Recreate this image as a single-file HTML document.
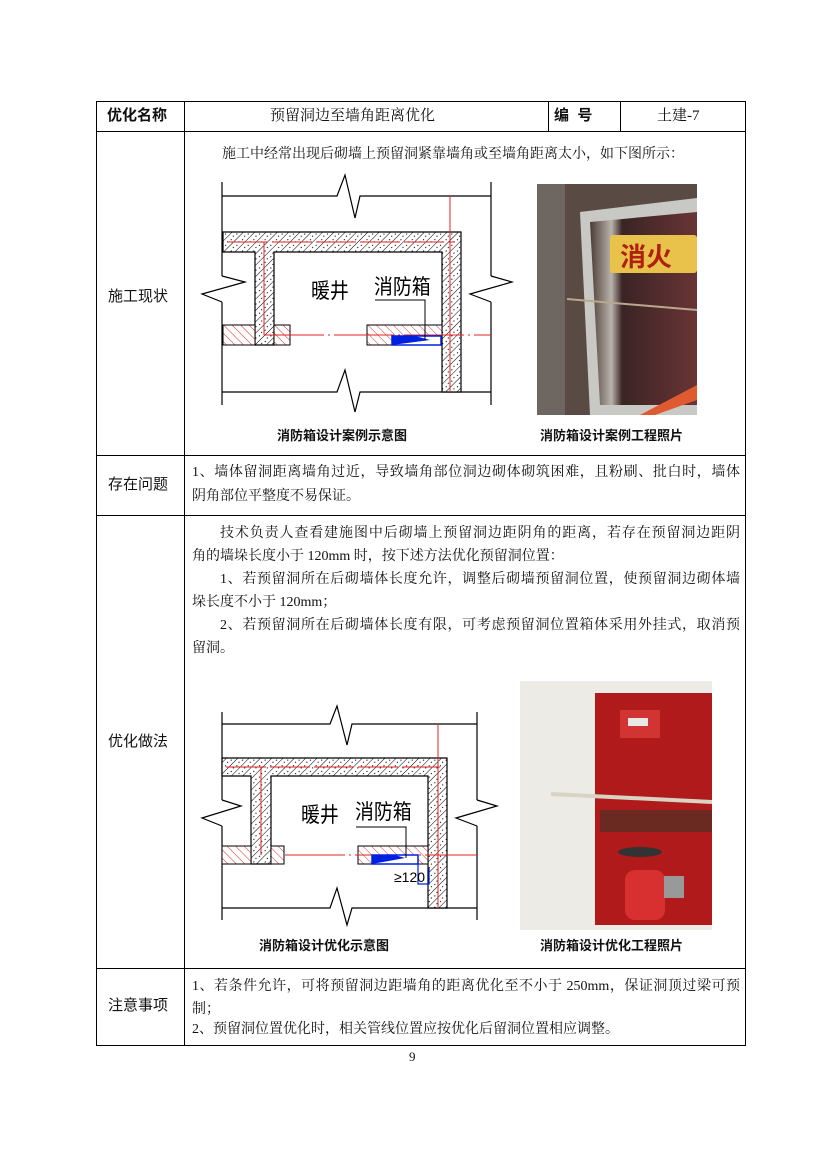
<!DOCTYPE html>
<html><head><meta charset="utf-8"><style>
body{margin:0;background:#fff;}
#pg{position:relative;width:826px;height:1169px;overflow:hidden;font-family:"Liberation Serif","Noto Serif CJK SC","Noto Sans CJK SC",serif;color:#111;}
.t{position:absolute;white-space:nowrap;font-size:14px;line-height:16px;}
.j{text-align:justify;text-align-last:justify;}
.b{font-family:"Liberation Sans","Noto Sans CJK SC",sans-serif;font-weight:bold;}
.l{font-family:"Liberation Sans","Noto Sans CJK SC",sans-serif;font-size:15px;}
svg{position:absolute;left:0;top:0;}
.dl{font-family:"WenQuanYi Zen Hei","Noto Sans CJK SC",sans-serif;font-weight:normal;}
</style></head><body><div id="pg">
<svg width="826" height="1169" viewBox="0 0 826 1169">
<defs>
<pattern id="con" width="8" height="8" patternUnits="userSpaceOnUse" patternTransform="rotate(45)">
<rect width="8" height="8" fill="#fff"/><line x1="0" y1="0" x2="0" y2="8" stroke="#000" stroke-width="1"/>
<circle cx="4" cy="2" r="0.6" fill="#000"/><circle cx="5" cy="6" r="0.6" fill="#000"/></pattern>
<pattern id="brk" width="6" height="6" patternUnits="userSpaceOnUse" patternTransform="rotate(-45)">
<rect width="6" height="6" fill="#fff"/><line x1="0" y1="0" x2="0" y2="6" stroke="#e03030" stroke-width="1"/></pattern>
<linearGradient id="g1" x1="0" y1="0" x2="1" y2="0"><stop offset="0" stop-color="#4a3a33"/><stop offset="0.2" stop-color="#b9b4ac"/><stop offset="0.3" stop-color="#3a2424"/><stop offset="1" stop-color="#6a3436"/></linearGradient>
</defs>
<g stroke="#000" stroke-width="1" fill="none">
<rect x="96.5" y="101.5" width="649" height="944"/>
<line x1="96" y1="131.5" x2="746" y2="131.5"/>
<line x1="96" y1="455.5" x2="746" y2="455.5"/>
<line x1="96" y1="515.5" x2="746" y2="515.5"/>
<line x1="96" y1="968.5" x2="746" y2="968.5"/>
<line x1="184.5" y1="101" x2="184.5" y2="1045"/>
<line x1="548.5" y1="101" x2="548.5" y2="131"/>
<line x1="620.5" y1="101" x2="620.5" y2="131"/>
</g>
<!-- diagram 1 -->
<g fill="none" stroke="#000" stroke-width="1.2">
<line x1="222" y1="182" x2="222" y2="276"/><line x1="222" y1="302" x2="222" y2="405"/>
<line x1="491" y1="182" x2="491" y2="276"/><line x1="491" y1="302" x2="491" y2="405"/>
<polyline points="222,196 337,196 345,175 355,218 360,196 491,196"/>
<polyline points="222,392 337,392 345,370 355,412 360,392 491,392"/>
<polyline points="222,276 245,282 202,294 222,302"/>
<polyline points="491,276 512,282 470,294 491,302"/>
</g>
<path d="M223,232 H461 V392 H442 V252 H274 V345 H255 V252 H223 Z" fill="url(#con)" stroke="#000" stroke-width="1.2"/>
<rect x="223" y="325" width="32" height="20" fill="url(#brk)" stroke="#000"/>
<rect x="274" y="325" width="16" height="20" fill="url(#brk)" stroke="#000"/>
<rect x="367" y="325" width="75" height="20" fill="url(#brk)" stroke="#000"/>
<g stroke="#e02020" stroke-width="1" fill="none">
<line x1="450" y1="196" x2="450" y2="392"/>
<line x1="228" y1="242" x2="455" y2="242" stroke-dasharray="40 4"/>
<line x1="264" y1="242" x2="264" y2="335"/>
<line x1="264" y1="335" x2="491" y2="335" stroke-dasharray="60 4 2 4"/>
</g>
<rect x="392" y="336" width="49" height="9" fill="#fff" stroke="#0020e0" stroke-width="1.5"/>
<path d="M392,336 H415 L430,340 L392,345 Z" fill="#0020e0"/>
<polyline points="375,300 425,300 425,340" fill="none" stroke="#000"/>
<text class="dl" x="311" y="298" font-size="21" transform="translate(311 0) scale(0.9 1) translate(-311 0)">暖井</text>
<text class="dl" x="374" y="294" font-size="21" transform="translate(374 0) scale(0.9 1) translate(-374 0)">消防箱</text>
<!-- photo 1 -->
<rect x="537" y="184" width="160" height="231" fill="#5a4a44"/>
<rect x="537" y="184" width="28" height="231" fill="#6e6660"/>
<path d="M580,212 L697,198 V415 L590,415 Z" fill="#c8c8c4"/>
<path d="M590,222 L697,212 V405 L600,405 Z" fill="url(#g1)"/>
<rect x="610" y="235" width="87" height="38" rx="3" fill="#e8c24a"/>
<text x="620" y="266" font-size="26" fill="#b02010" font-weight="bold" font-family="Noto Sans CJK SC,sans-serif">消火</text>
<line x1="567" y1="299" x2="697" y2="310" stroke="#b8a890" stroke-width="2"/>
<path d="M640,415 L697,385 V400 L655,415 Z" fill="#e05a30"/>
<!-- diagram 2 -->
<g fill="none" stroke="#000" stroke-width="1.2">
<line x1="222" y1="712" x2="222" y2="800"/><line x1="222" y1="826" x2="222" y2="920"/>
<line x1="477" y1="712" x2="477" y2="800"/><line x1="477" y1="826" x2="477" y2="920"/>
<polyline points="222,724 330,724 337,706 347,745 352,724 477,724"/>
<polyline points="222,908 330,908 337,888 347,925 352,908 477,908"/>
<polyline points="222,800 241,806 202,818 222,826"/>
<polyline points="477,800 497,806 456,818 477,826"/>
</g>
<path d="M222,758 H447 V908 H428 V776 H271 V864 H251 V776 H222 Z" fill="url(#con)" stroke="#000" stroke-width="1.2"/>
<rect x="222" y="846" width="29" height="18" fill="url(#brk)" stroke="#000"/>
<rect x="271" y="846" width="13" height="18" fill="url(#brk)" stroke="#000"/>
<rect x="358" y="846" width="70" height="18" fill="url(#brk)" stroke="#000"/>
<g stroke="#e02020" stroke-width="1" fill="none">
<line x1="438" y1="724" x2="438" y2="908"/>
<line x1="226" y1="767" x2="440" y2="767" stroke-dasharray="40 4"/>
<line x1="261" y1="767" x2="261" y2="855"/>
<line x1="285" y1="855" x2="477" y2="855" stroke-dasharray="60 4 2 4"/>
</g>
<rect x="372" y="855" width="46" height="9" fill="#fff" stroke="#0020e0" stroke-width="1.5"/>
<path d="M372,855 H395 L405,858 L372,864 Z" fill="#0020e0"/>
<polyline points="418,864 418,884 429,884 429,868" fill="none" stroke="#0020e0" stroke-width="1.2"/>
<text x="394" y="882" font-size="14" font-family="Liberation Sans,sans-serif">≥120</text>
<polyline points="356,827 406,827 406,858" fill="none" stroke="#000"/>
<text class="dl" x="301" y="822" font-size="21" transform="translate(301 0) scale(0.9 1) translate(-301 0)">暖井</text>
<text class="dl" x="355" y="819" font-size="21" transform="translate(355 0) scale(0.9 1) translate(-355 0)">消防箱</text>
<!-- photo 2 -->
<rect x="520" y="681" width="192" height="249" fill="#ecebe6"/>
<rect x="595" y="693" width="117" height="232" fill="#b01a1a"/>
<rect x="620" y="710" width="40" height="28" fill="#d23434"/>
<rect x="628" y="718" width="20" height="8" fill="#e8e8e8"/>
<rect x="600" y="810" width="112" height="22" fill="#6a2a22"/>
<line x1="551" y1="794" x2="712" y2="802" stroke="#d8d4c4" stroke-width="4"/>
<rect x="625" y="870" width="40" height="50" rx="10" fill="#d83030"/>
<ellipse cx="640" cy="852" rx="22" ry="5" fill="#333"/>
<rect x="664" y="876" width="20" height="22" fill="#999"/>
</svg>
<div class="t b" style="left:107px;top:108px;font-size:15px;">优化名称</div>
<div class="t" style="left:270px;top:108px;font-size:15px;">预留洞边至墙角距离优化</div>
<div class="t b" style="left:554px;top:108px;font-size:15px;">编&nbsp;&nbsp;号</div>
<div class="t" style="left:657px;top:108px;font-size:15px;">土建-7</div>
<div class="t l" style="left:108px;top:289px;">施工现状</div>
<div class="t l" style="left:108px;top:477px;">存在问题</div>
<div class="t l" style="left:108px;top:734px;">优化做法</div>
<div class="t l" style="left:108px;top:998px;">注意事项</div>
<div class="t" style="left:222px;top:147px;">施工中经常出现后砌墙上预留洞紧靠墙角或至墙角距离太小，如下图所示：</div>
<div class="t b" style="left:277px;top:428px;font-size:13px;">消防箱设计案例示意图</div>
<div class="t b" style="left:540px;top:428px;font-size:13px;">消防箱设计案例工程照片</div>
<div class="t j" style="left:192px;top:465px;width:548px;">1、墙体留洞距离墙角过近，导致墙角部位洞边砌体砌筑困难，且粉刷、批白时，墙体</div>
<div class="t" style="left:192px;top:489px;">阴角部位平整度不易保证。</div>
<div class="t j" style="left:220px;top:526px;width:520px;">技术负责人查看建施图中后砌墙上预留洞边距阴角的距离，若存在预留洞边距阴</div>
<div class="t" style="left:192px;top:549px;">角的墙垛长度小于 120mm 时，按下述方法优化预留洞位置：</div>
<div class="t j" style="left:220px;top:572px;width:520px;">1、若预留洞所在后砌墙体长度允许，调整后砌墙预留洞位置，使预留洞边砌体墙</div>
<div class="t" style="left:192px;top:595px;">垛长度不小于 120mm；</div>
<div class="t j" style="left:220px;top:618px;width:520px;">2、若预留洞所在后砌墙体长度有限，可考虑预留洞位置箱体采用外挂式，取消预</div>
<div class="t" style="left:192px;top:641px;">留洞。</div>
<div class="t b" style="left:259px;top:938px;font-size:13px;">消防箱设计优化示意图</div>
<div class="t b" style="left:540px;top:938px;font-size:13px;">消防箱设计优化工程照片</div>
<div class="t j" style="left:192px;top:979px;width:548px;">1、若条件允许，可将预留洞边距墙角的距离优化至不小于 250mm，保证洞顶过梁可预</div>
<div class="t" style="left:192px;top:1002px;">制；</div>
<div class="t" style="left:192px;top:1022px;">2、预留洞位置优化时，相关管线位置应按优化后留洞位置相应调整。</div>
<div class="t" style="left:409px;top:1049px;font-size:13px;">9</div>
</div></body></html>
